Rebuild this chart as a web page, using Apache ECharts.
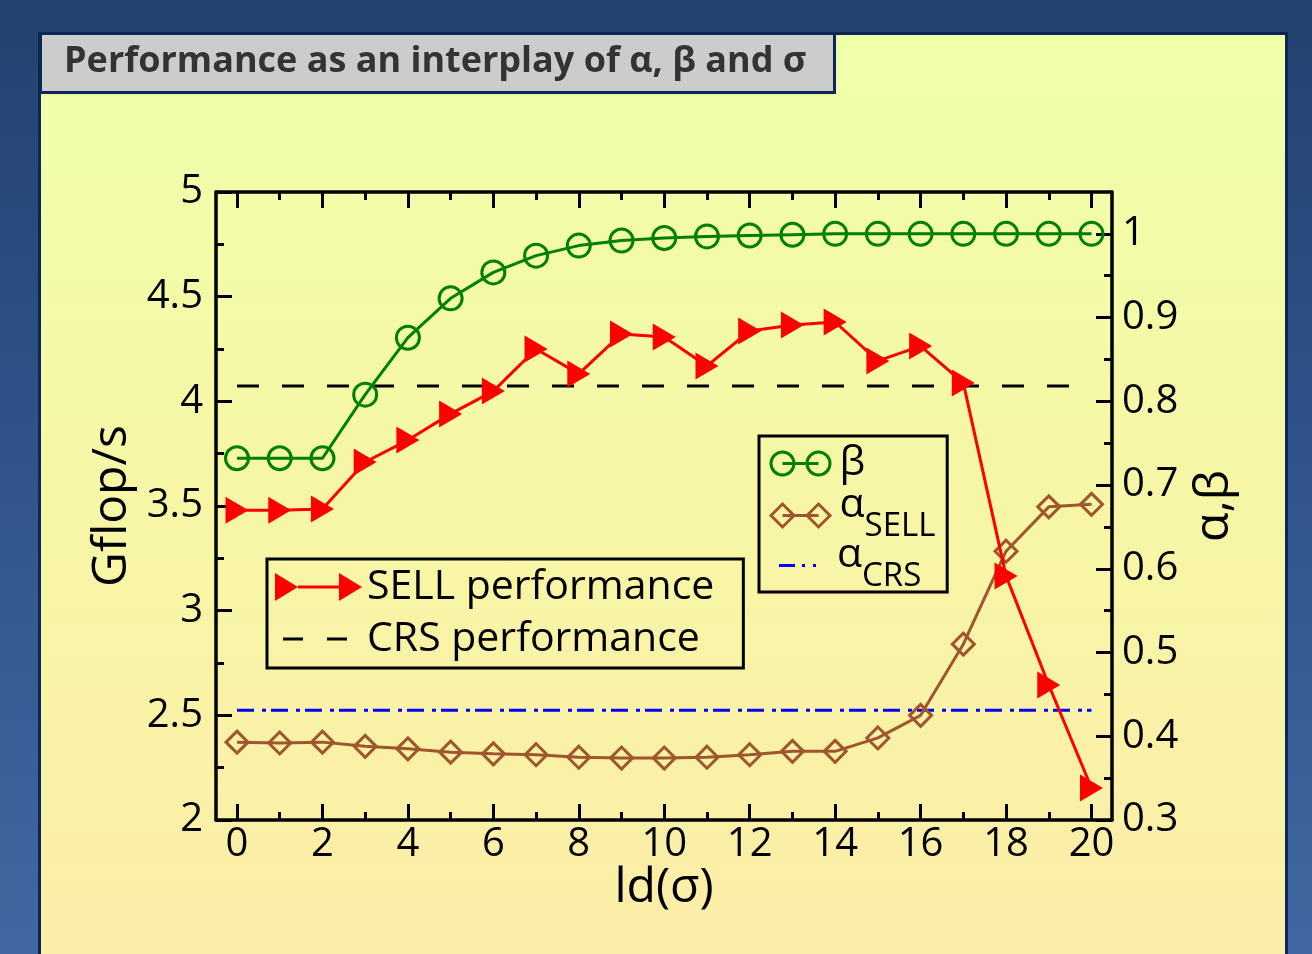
<!DOCTYPE html>
<html>
<head>
<meta charset="utf-8">
<script src="https://cdn.jsdelivr.net/npm/echarts@6/dist/echarts.min.js"></script>
<style>
  html, body { margin: 0; padding: 0; width: 1312px; height: 954px; overflow: hidden; }
  body { background: linear-gradient(to bottom, #23426f 0%, #2f5289 45%, #4168a2 100%); position: relative; }
  #panel { position: absolute; left: 38px; top: 32px; width: 1244px; height: 960px;
           border: 3px solid #0b2658; background: linear-gradient(to bottom, #f0ffaa 0%, #f6f7a6 45%, #fdeca8 100%); }
  #chart { position: absolute; left: 0; top: 0; width: 1312px; height: 954px; }
</style>
</head>
<body>
<div id="panel"></div>
<div id="chart"></div>
<script>
// ---- data ----
const ldSigma = [0,1,2,3,4,5,6,7,8,9,10,11,12,13,14,15,16,17,18,19,20];
const sellPerf = [3.48,3.48,3.486,3.71,3.815,3.94,4.049,4.25,4.131,4.322,4.307,4.169,4.336,4.365,4.379,4.193,4.264,4.088,3.166,2.645,2.153];
const crsPerf = 4.073;
const beta = [0.732,0.732,0.732,0.808,0.876,0.923,0.954,0.974,0.986,0.992,0.995,0.997,0.998,0.999,1,1,1,1,1,1,1];
const alphaSell = [0.393,0.392,0.393,0.388,0.385,0.381,0.379,0.378,0.375,0.374,0.374,0.375,0.378,0.382,0.382,0.398,0.425,0.510,0.621,0.674,0.677];
const alphaCrs = 0.431;

// ---- layout ----
const FONT = 'Open Sans';
const T = 192, B = 820, L = 216, R = 1112, X0 = 237, X20 = 1091.5;
const yRMin = 0.3, yRMax = 1.05;
const T1 = T + (yRMax - 1.0) / (yRMax - yRMin) * (B - T);
const W = 1312, H = 954;

const pairs = (ys) => ldSigma.map((x, i) => [x, ys[i]]);
const flat = (v) => [[ldSigma[0], v], [ldSigma[ldSigma.length - 1], v]];

const axLine = { show: true, onZero: false, lineStyle: { color: '#000', width: 3.5 } };
const noLine = { show: false, onZero: false };
const tickIn = { show: true, inside: true, length: 16, lineStyle: { color: '#000', width: 3 } };
const minorIn = { show: true, splitNumber: 2, length: 8, lineStyle: { color: '#000', width: 3 } };
const lbl = { color: '#000', fontFamily: FONT, fontSize: 40 };
const nameStyle = { color: '#000', fontFamily: FONT, fontSize: 48 };

const chart = echarts.init(document.getElementById('chart'), null, { renderer: 'canvas', width: W, height: H });

const iconSell = 'path://M0,0L23,14L0,28ZM23,12.5L65,12.5L65,15.5L23,15.5ZM64,0L87,14L64,28Z';
const iconCrs = 'path://M0,0M87,28M8,12.5L28,12.5L28,15.5L8,15.5ZM52,12.5L72,12.5L72,15.5L52,15.5Z';
const iconBeta = 'path://M0,0M65,26M1.5,13A11.5,11.5 0 1,0 24.5,13A11.5,11.5 0 1,0 1.5,13ZM13,13L49,13M37.5,13A11.5,11.5 0 1,0 60.5,13A11.5,11.5 0 1,0 37.5,13Z';
const iconAlpha = 'path://M0,0M65,26M13,1.5L24.5,13L13,24.5L1.5,13ZM13,13L49,13M49,1.5L60.5,13L49,24.5L37.5,13Z';
const iconAcrs = 'path://M0,0M65,26M12,11.5L28,11.5L28,14.5L12,14.5ZM35,11.5L38,11.5L38,14.5L35,14.5ZM46,11.5L49,11.5L49,14.5L46,14.5Z';

const richSub = {
  a: { fontFamily: FONT, fontSize: 41, color: '#000', verticalAlign: 'top', height: 21, lineHeight: 42 },
  s: { fontFamily: FONT, fontSize: 33, color: '#000', verticalAlign: 'bottom', height: 20, lineHeight: 42 }
};
const subLegend = (name, label, icon, itemStyle, top) => ({
  orient: 'vertical', left: 767, top: top, selectedMode: false,
  padding: 0, itemWidth: 65, itemHeight: 26,
  textStyle: { color: '#000', fontFamily: FONT, fontSize: 41, rich: richSub },
  formatter: () => label,
  data: [{ name: name, icon: icon, itemStyle: itemStyle }]
});

const option = {
  animation: false,
  title: {
    text: 'Performance as an interplay of α, β and σ',
    left: 40, top: 33,
    padding: [11, 28, 13, 24],
    backgroundColor: '#cccccc',
    borderColor: '#0b2658', borderWidth: 3,
    textStyle: { fontFamily: FONT, fontWeight: 'bold', fontSize: 36, color: '#333333' }
  },
  grid: [
    { left: L, top: T, width: R - L, height: B - T },
    { left: X0, top: T, width: X20 - X0, height: B - T },
    { left: L, top: T1, width: R - L, height: B - T1 }
  ],
  xAxis: [
    { type: 'value', gridIndex: 0, position: 'bottom', min: -0.5, max: 20.5,
      axisLine: axLine, axisTick: { show: false }, axisLabel: { show: false }, splitLine: { show: false },
      name: 'ld(σ)', nameLocation: 'middle', nameGap: 44, nameTextStyle: nameStyle },
    { type: 'value', gridIndex: 0, position: 'top', min: -0.5, max: 20.5,
      axisLine: axLine, axisTick: { show: false }, axisLabel: { show: false }, splitLine: { show: false } },
    { type: 'value', gridIndex: 1, position: 'bottom', min: 0, max: 20, interval: 2,
      axisLine: noLine, axisTick: tickIn, minorTick: minorIn,
      axisLabel: Object.assign({ margin: 5 }, lbl), splitLine: { show: false } },
    { type: 'value', gridIndex: 1, position: 'top', min: 0, max: 20, interval: 2,
      axisLine: noLine, axisTick: tickIn, minorTick: minorIn,
      axisLabel: { show: false }, splitLine: { show: false } },
    { type: 'value', gridIndex: 2, show: false, min: 0, max: 20, axisLine: noLine }
  ],
  yAxis: [
    { type: 'value', gridIndex: 0, position: 'left', min: 2, max: 5, interval: 0.5,
      axisLine: axLine, axisTick: tickIn, minorTick: minorIn,
      axisLabel: Object.assign({ margin: 13 }, lbl), splitLine: { show: false },
      name: 'Gflop/s', nameLocation: 'middle', nameGap: 78, nameRotate: 90, nameTextStyle: nameStyle },
    { type: 'value', gridIndex: 0, position: 'right', min: yRMin, max: yRMax,
      axisLine: axLine, axisTick: { show: false }, axisLabel: { show: false }, splitLine: { show: false },
      name: 'α,β', nameLocation: 'middle', nameGap: 78, nameRotate: 90, nameTextStyle: nameStyle },
    { type: 'value', gridIndex: 1, show: false, min: 2, max: 5, axisLine: noLine },
    { type: 'value', gridIndex: 1, show: false, min: yRMin, max: yRMax, axisLine: noLine },
    { type: 'value', gridIndex: 2, position: 'right', min: 0.3, max: 1.0, interval: 0.1,
      axisLine: noLine, axisTick: tickIn, minorTick: minorIn,
      axisLabel: Object.assign({ margin: 10 }, lbl), splitLine: { show: false } }
  ],
  legend: [
    { orient: 'vertical', left: 267, top: 559, selectedMode: false,
      padding: [7.5, 29, 8.5, 8], itemGap: 11, itemWidth: 87, itemHeight: 28,
      borderColor: '#000', borderWidth: 3,
      textStyle: { color: '#000', fontFamily: FONT, fontSize: 41 },
      data: [
        { name: 'SELL performance', icon: iconSell, itemStyle: { color: '#ff0000', borderWidth: 0 } },
        { name: 'CRS performance', icon: iconCrs, itemStyle: { color: '#000000', borderWidth: 0 } }
      ] },
    { orient: 'vertical', left: 759, top: 436, selectedMode: false,
      padding: [7, 82, 108, 8], itemWidth: 65, itemHeight: 26,
      borderColor: '#000', borderWidth: 3,
      textStyle: { color: '#000', fontFamily: FONT, fontSize: 41 },
      data: [{ name: 'β', icon: iconBeta, itemStyle: { color: 'none', borderColor: '#008000', borderWidth: 3 } }] },
    subLegend('α_SELL', '{a|α}{s|SELL}', iconAlpha, { color: 'none', borderColor: '#a0552d', borderWidth: 3 }, 484.5),
    subLegend('α_CRS', '{a|α}{s|CRS}', iconAcrs, { color: '#0000ff', borderWidth: 0 }, 534.5)
  ],
  series: [
    { name: 'CRS performance', type: 'line', xAxisIndex: 2, yAxisIndex: 2, data: flat(crsPerf),
      symbol: 'none', lineStyle: { color: '#000', width: 3, type: [22, 23] }, itemStyle: { color: '#000' }, z: 2 },
    { name: 'α_CRS', type: 'line', xAxisIndex: 2, yAxisIndex: 3, data: flat(alphaCrs),
      symbol: 'none', lineStyle: { color: '#0000ff', width: 3, type: [17, 8, 4, 5] }, itemStyle: { color: '#0000ff' }, z: 2 },
    { name: 'α_SELL', type: 'line', xAxisIndex: 2, yAxisIndex: 3, data: pairs(alphaSell),
      symbol: 'diamond', symbolSize: 22, clip: false,
      lineStyle: { color: '#a0552d', width: 3 },
      itemStyle: { color: 'none', borderColor: '#a0552d', borderWidth: 3 }, z: 3 },
    { name: 'β', type: 'line', xAxisIndex: 2, yAxisIndex: 3, data: pairs(beta),
      symbol: 'circle', symbolSize: 23, clip: false,
      lineStyle: { color: '#008000', width: 3 },
      itemStyle: { color: 'none', borderColor: '#008000', borderWidth: 3 }, z: 3 },
    { name: 'SELL performance', type: 'line', xAxisIndex: 2, yAxisIndex: 2, data: pairs(sellPerf),
      symbol: 'triangle', symbolRotate: -90, symbolSize: [27, 23], clip: false,
      lineStyle: { color: '#ff0000', width: 3 },
      itemStyle: { color: '#ff0000', borderWidth: 0 }, z: 4 }
  ]
};
chart.setOption(option);
</script>
</body>
</html>
